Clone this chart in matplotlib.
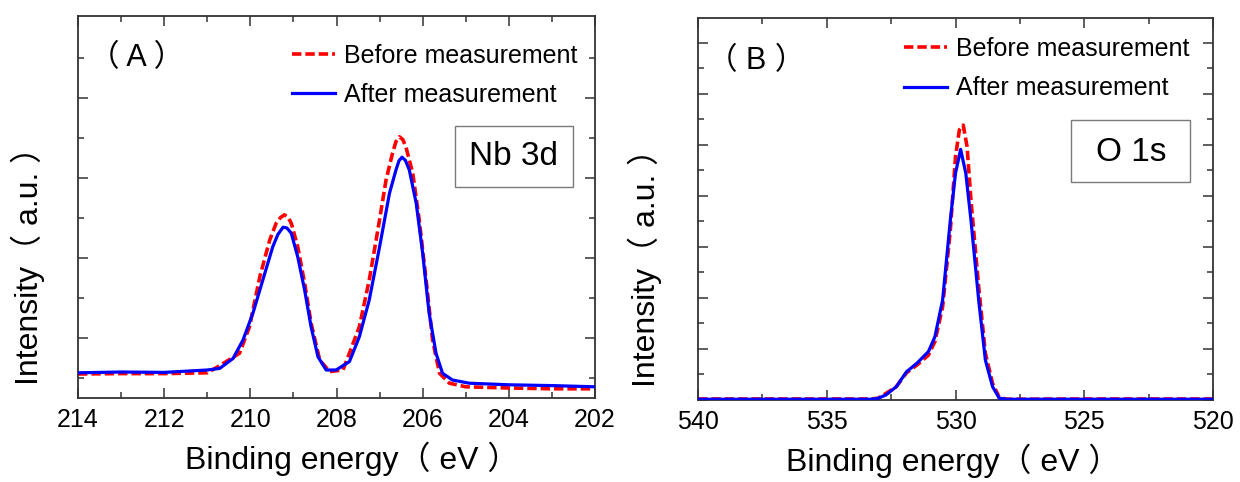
import matplotlib
matplotlib.use("Agg")
import matplotlib.pyplot as plt
from matplotlib.patches import Rectangle
from matplotlib.ticker import MultipleLocator, FixedLocator, NullFormatter

plt.rcParams['font.family'] = ['Liberation Sans', 'Noto Sans CJK SC']

# Nb 3d spectrum (panel A)
nb_be_after = [214.0, 213.0, 212.0, 211.0, 210.71, 210.40, 210.17, 209.94, 209.71, 209.48,
               209.36, 209.24, 209.15, 209.05, 208.90, 208.74, 208.59, 208.43, 208.24, 208.01,
               207.70, 207.47, 207.24, 207.00, 206.77, 206.62, 206.55, 206.48, 206.40, 206.31,
               206.15, 206.00, 205.85, 205.69, 205.54, 205.31, 204.92, 204.0, 203.0, 202.0]
nb_int_after = [1.12, 1.14, 1.13, 1.19, 1.23, 1.48, 1.94, 2.61, 3.44, 4.27,
                4.58, 4.76, 4.74, 4.61, 4.02, 3.19, 2.27, 1.52, 1.19, 1.19,
                1.40, 2.02, 2.94, 4.27, 5.61, 6.19, 6.42, 6.51, 6.43, 6.19,
                5.36, 4.11, 2.61, 1.61, 1.11, 0.94, 0.86, 0.82, 0.80, 0.77]
nb_be_before = [214.0, 213.0, 212.0, 211.0, 210.71, 210.25, 210.02, 209.78, 209.55, 209.40,
                209.30, 209.21, 209.13, 209.05, 208.90, 208.74, 208.59, 208.39, 208.16, 207.85,
                207.70, 207.47, 207.24, 207.04, 206.85, 206.70, 206.62, 206.54, 206.46, 206.39,
                206.23, 206.08, 205.92, 205.77, 205.61, 205.38, 205.0, 204.0, 203.0, 202.0]
nb_int_before = [1.09, 1.10, 1.10, 1.12, 1.30, 1.61, 2.27, 3.52, 4.44, 4.86,
                 5.00, 5.07, 5.02, 4.86, 4.27, 3.36, 2.36, 1.44, 1.15, 1.19,
                 1.61, 2.27, 3.44, 4.69, 5.94, 6.61, 6.90, 7.02, 6.95, 6.77,
                 6.11, 4.94, 3.44, 1.94, 1.11, 0.86, 0.77, 0.74, 0.72, 0.72]

# O 1s spectrum (panel B)
o_be_after = [540.0, 537.0, 535.0, 533.3, 533.0, 532.7, 532.3, 531.9, 531.5, 531.05,
              530.8, 530.5, 530.2, 530.0, 529.8, 529.6, 529.4, 529.1, 528.84,
              528.56, 528.3, 528.0, 525.0, 520.0]
o_int_after = [0.03, 0.03, 0.03, 0.03, 0.07, 0.20, 0.52, 1.11, 1.44, 1.90,
               2.48, 3.92, 7.06, 8.89, 9.83, 8.89, 7.06, 3.92, 1.57,
               0.52, 0.07, 0.03, 0.03, 0.03]
o_be_before = [540.0, 537.0, 535.0, 533.3, 533.0, 532.7, 532.3, 531.9, 531.5, 531.05,
               530.8, 530.5, 530.2, 530.0, 529.85, 529.7, 529.55, 529.4, 529.1,
               528.84, 528.56, 528.3, 528.0, 525.0, 520.0]
o_int_before = [0.04, 0.04, 0.04, 0.04, 0.07, 0.26, 0.52, 1.07, 1.37, 1.76,
                2.29, 3.66, 6.67, 9.54, 10.59, 10.78, 9.93, 7.84, 4.44,
                1.83, 0.65, 0.10, 0.03, 0.04, 0.04]

legend_labels = ["Before measurement", "After measurement"]
spine_col = "#333333"

fig = plt.figure(figsize=(12.4, 4.82), dpi=100)
axA = fig.add_axes([78 / 1240, 84 / 482, 517 / 1240, 382 / 482])
axB = fig.add_axes([698 / 1240, 82 / 482, 515 / 1240, 382 / 482])


def style_axis(ax):
    for s in ax.spines.values():
        s.set_color(spine_col)
        s.set_linewidth(1.3)
    ax.tick_params(which="both", direction="in", top=True, right=True,
                   colors=spine_col, labelcolor="black", width=1.1)
    ax.tick_params(which="major", length=7, pad=7, labelsize=18)
    ax.tick_params(which="minor", length=4)
    ax.yaxis.set_major_formatter(NullFormatter())


def draw_panel(ax, be_b, int_b, be_a, int_a, tag, tag_pos, leg_anchor,
               box, box_text, text_pos, lab_x, xlab_x):
    ax.plot(be_b, int_b, color="#ff0000", lw=2.6, linestyle=(0, (2.6, 1.1)),
            label=legend_labels[0], zorder=2)
    ax.plot(be_a, int_a, color="#0000ff", lw=2.3, label=legend_labels[1], zorder=3)
    ax.legend(loc="upper left", bbox_to_anchor=leg_anchor, frameon=False,
              fontsize=18, handlelength=1.72, handletextpad=0.36,
              labelspacing=0.61, borderpad=0, borderaxespad=0)
    ax.text(tag_pos[0], tag_pos[1], tag, transform=ax.transAxes, fontsize=22,
            ha="center", va="center")
    ax.add_patch(Rectangle((box[0], box[1]), box[2] - box[0], box[3] - box[1],
                           transform=ax.transAxes, fill=False, ec="#7a7a7a", lw=1.0))
    ax.text(text_pos[0], text_pos[1], box_text, transform=ax.transAxes,
            fontsize=24, ha="center", va="center")
    ax.set_xlabel("Binding energy（ eV ）", fontsize=23)
    ax.set_ylabel("Intensity（ a.u. ）", fontsize=23)
    ax.xaxis.set_label_coords(xlab_x, -0.115)
    ax.yaxis.set_label_coords(lab_x, 0.366)


draw_panel(axA, nb_be_before, nb_int_before, nb_be_after, nb_int_after,
           "（ A ）", (0.114, 0.891), (0.414, 0.927),
           (0.729, 0.552, 0.957, 0.712), "Nb 3d", (0.843, 0.631), -0.064, 0.53)
axA.set_xlim(214, 202)
axA.set_ylim(0.49, 10.04)
axA.xaxis.set_major_locator(MultipleLocator(2))
axA.xaxis.set_minor_locator(MultipleLocator(1))
axA.yaxis.set_major_locator(FixedLocator([2, 4, 6, 8]))
axA.yaxis.set_minor_locator(FixedLocator([1, 3, 5, 7, 9]))
style_axis(axA)

draw_panel(axB, o_be_before, o_int_before, o_be_after, o_int_after,
           "（ B ）", (0.113, 0.887), (0.40, 0.95),
           (0.724, 0.571, 0.955, 0.733), "O 1s", (0.841, 0.647), -0.070, 0.495)
axB.set_xlim(540, 520)
axB.set_ylim(0, 14.98)
axB.xaxis.set_major_locator(MultipleLocator(5))
axB.xaxis.set_minor_locator(MultipleLocator(2.5))
axB.yaxis.set_major_locator(MultipleLocator(2))
axB.yaxis.set_minor_locator(MultipleLocator(1))
style_axis(axB)

fig.savefig("out.png", dpi=100)
